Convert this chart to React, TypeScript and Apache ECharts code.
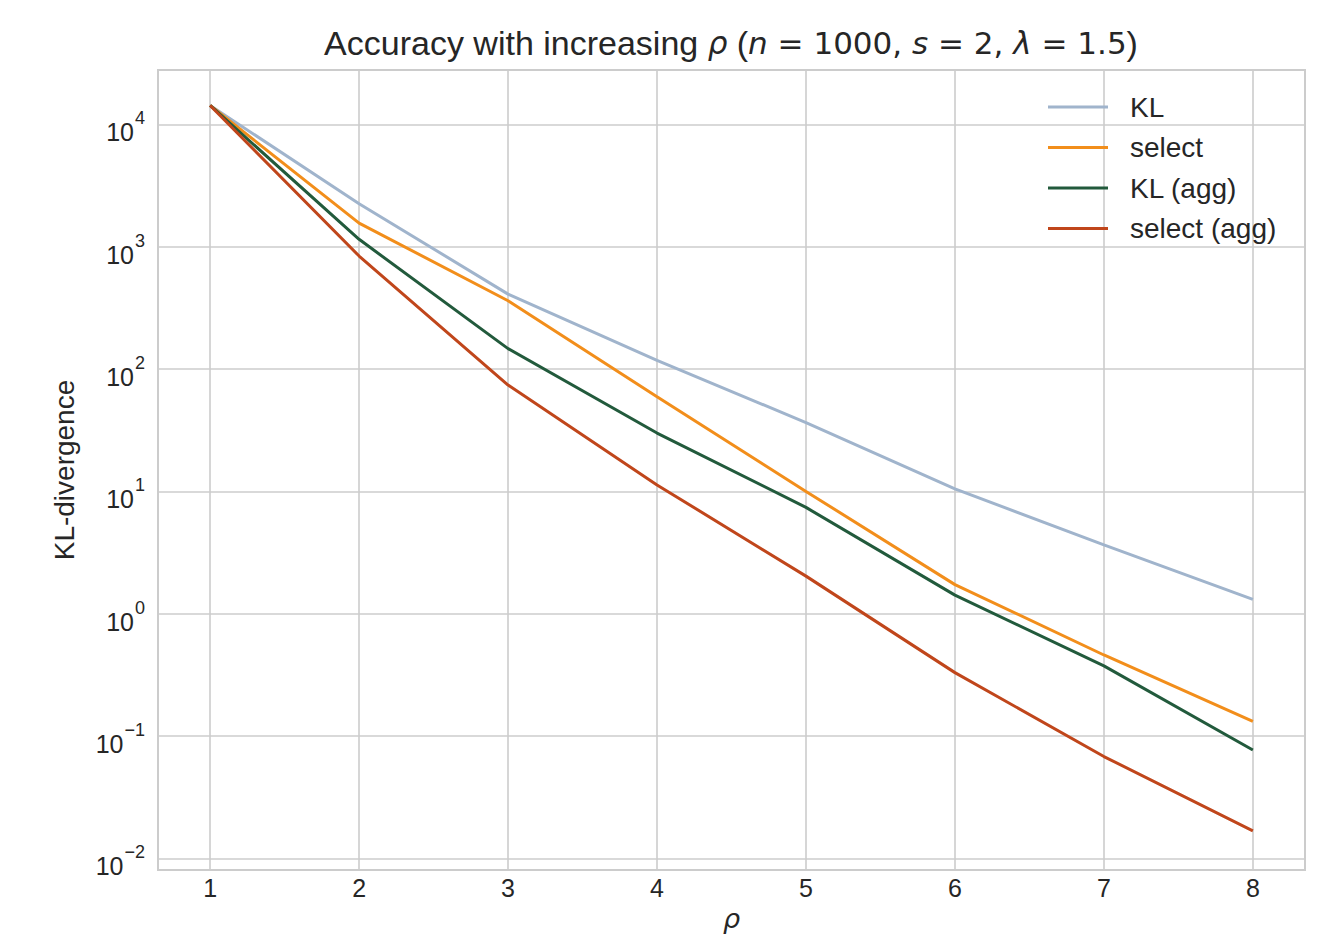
import React, { useEffect, useRef } from "react";
import * as echarts from "echarts";

const rhoValues = [1, 2, 3, 4, 5, 6, 7, 8];
const klValues = [14300, 2250, 410, 118, 36.5, 10.5, 3.65, 1.31];
const selectValues = [14300, 1560, 362, 59.5, 10.0, 1.73, 0.46, 0.132];
const klAggValues = [14300, 1150, 147, 30, 7.4, 1.42, 0.375, 0.077];
const selectAggValues = [14300, 840, 74, 11.3, 2.03, 0.33, 0.068, 0.0168];
const seriesNames = ["KL", "select", "KL (agg)", "select (agg)"];
const seriesColors = ["#a0b4cc", "#f28e1b", "#225a3c", "#c0461b"];

const TXT = "#262626";
const GRID = "#cccccc";

export default function App() {
  const ref = useRef<HTMLDivElement>(null);
  useEffect(() => {
    document.body.style.margin = "0";
    const chart = echarts.init(ref.current!, null, { renderer: "svg" });
    const allValues = [klValues, selectValues, klAggValues, selectAggValues];
    const series = allValues.map((vals, i) => ({
      name: seriesNames[i],
      type: "line",
      data: rhoValues.map((x, j) => [x, vals[j]]),
      showSymbol: false,
      symbol: "none",
      lineStyle: { color: seriesColors[i], width: 3 },
      itemStyle: { color: seriesColors[i] },
      z: 3 + i,
    }));
    chart.setOption({
      animation: false,
      backgroundColor: "#ffffff",
      grid: {
        left: 158,
        right: 32,
        top: 70,
        bottom: 64,
        show: true,
        borderColor: GRID,
        borderWidth: 2,
        backgroundColor: "transparent",
        containLabel: false,
        outerBoundsMode: "none",
      },
      graphic: [
        {
          type: "text",
          x: 731,
          y: 22,
          z: 10,
          style: {
            text:
              "{a|Accuracy with increasing }{m|ρ}{a| (}{m|n}{d| = 1000, }{m|s}{d| = 2, }{m|λ}{d| = 1.5}{a|)}",
            align: "center",
            rich: {
              a: { fontFamily: "Liberation Sans", fontSize: 34, fill: TXT, lineHeight: 42 },
              m: {
                fontFamily: "DejaVu Sans",
                fontStyle: "italic",
                fontSize: 31,
                fill: TXT,
                lineHeight: 42,
              },
              d: { fontFamily: "DejaVu Sans", fontSize: 31, fill: TXT, lineHeight: 42 },
            },
          },
        },
      ],
      legend: {
        orient: "vertical",
        left: 1048,
        top: 93,
        padding: 0,
        icon: "rect",
        itemWidth: 60,
        itemHeight: 3,
        itemGap: 12.5,
        data: seriesNames,
        textStyle: {
          fontFamily: "Liberation Sans",
          fontSize: 28,
          color: TXT,
          lineHeight: 28,
          padding: [0, 0, 0, 17],
        },
      },
      xAxis: {
        type: "value",
        min: 0.65,
        max: 8.35,
        splitNumber: 7,
        name: "ρ",
        nameLocation: "middle",
        nameGap: 33,
        nameTextStyle: {
          fontFamily: "DejaVu Sans",
          fontStyle: "italic",
          fontSize: 27,
          color: TXT,
        },
        axisLine: { show: false },
        axisTick: { show: false },
        splitLine: { show: true, lineStyle: { color: GRID, width: 1.6 } },
        axisLabel: {
          margin: 5,
          fontFamily: "Liberation Sans",
          fontSize: 25,
          color: TXT,
          showMinLabel: false,
          showMaxLabel: false,
          formatter: (v: number) =>
            Math.abs(v - Math.round(v)) < 1e-6 ? String(Math.round(v)) : "",
        },
      },
      yAxis: {
        type: "log",
        logBase: 10,
        min: Math.pow(10, -2.095),
        max: Math.pow(10, 4.445),
        splitNumber: 7,
        name: "KL-divergence",
        nameLocation: "middle",
        nameGap: 80,
        nameRotate: 90,
        nameTextStyle: {
          fontFamily: "Liberation Sans",
          fontSize: 28,
          color: TXT,
        },
        axisLine: { show: false },
        axisTick: { show: false },
        splitLine: { show: true, lineStyle: { color: GRID, width: 1.6 } },
        minorTick: { show: false },
        minorSplitLine: { show: false },
        axisLabel: {
          margin: 13,
          showMinLabel: false,
          showMaxLabel: false,
          formatter: (v: number) => {
            const e = Math.log10(v);
            const r = Math.round(e);
            if (Math.abs(e - r) > 1e-6) return "";
            const es = r < 0 ? "\u2212" + Math.abs(r) : String(r);
            return "{b|10}{e|" + es + "}";
          },
          rich: {
            b: {
              fontFamily: "Liberation Sans",
              fontSize: 25,
              lineHeight: 25,
              color: TXT,
              padding: [16, 0, 0, 0],
            },
            e: {
              fontFamily: "Liberation Sans",
              fontSize: 18,
              lineHeight: 18,
              color: TXT,
              padding: [0, 0, 12, 1],
            },
          },
        },
      },
      series,
    });
    return () => chart.dispose();
  }, []);
  return <div ref={ref} style={{ width: 1337, height: 934 }} />;
}
